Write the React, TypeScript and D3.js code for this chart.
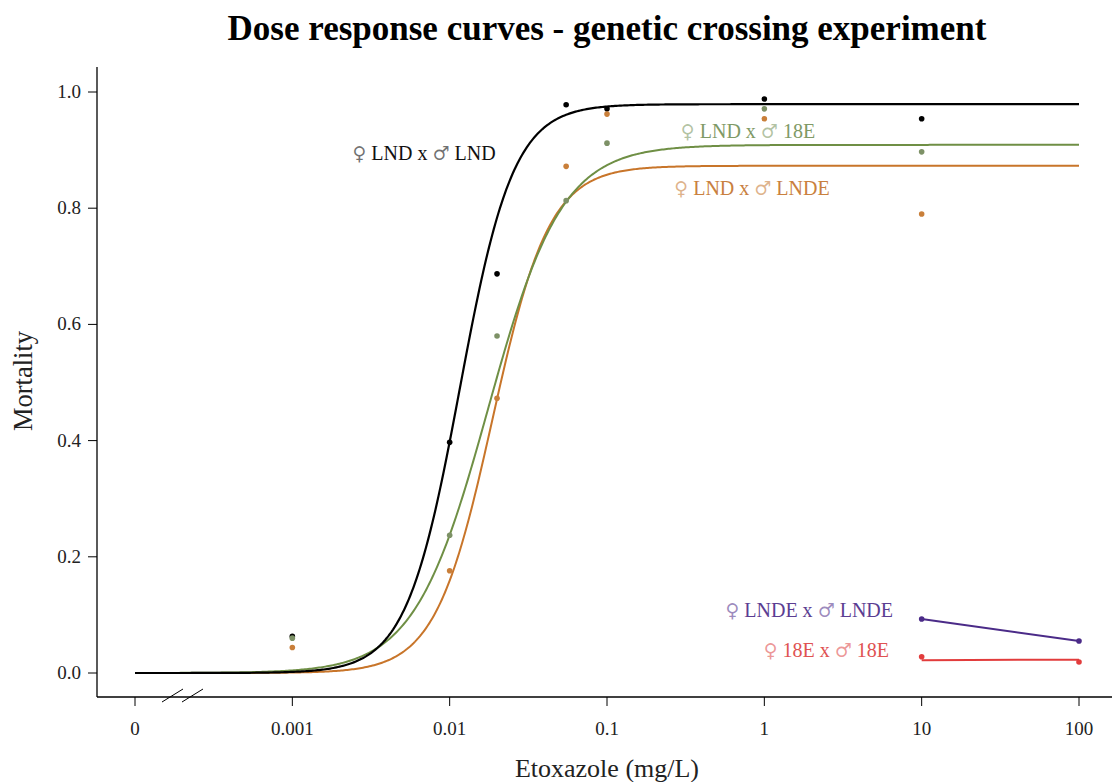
import React from "react";
import * as d3 from "d3";

// Observed mortality per cross at each etoxazole dose (mg/L)
const doses = [0.001, 0.01, 0.02, 0.055, 0.1, 1, 10];
const lndXlnd = [0.063, 0.397, 0.687, 0.978, 0.971, 0.988, 0.954];
const lndX18e = [0.06, 0.237, 0.58, 0.813, 0.912, 0.971, 0.897];
const lndXlnde = [0.044, 0.176, 0.473, 0.872, 0.962, 0.954, 0.79];

const highDoses = [10, 100];
const lndeXlnde = [0.093, 0.055];
const e18X18e = [0.028, 0.019];
// fitted responses at the two high doses
const lndeXlndeFit = [0.093, 0.055];
const e18X18eFit = [0.022, 0.023];

// Log-logistic fits: upper limit d, ED50 e, slope b
const fitUpper = [0.979, 0.909, 0.873];
const fitEd50 = [0.0116, 0.01754, 0.0187];
const fitSlope = [2.55, 1.85, 2.4];

const xTickValues = [0.0001, 0.001, 0.01, 0.1, 1, 10, 100];
const xTickLabels = ["0", "0.001", "0.01", "0.1", "1", "10", "100"];
const yTickValues = [0, 0.2, 0.4, 0.6, 0.8, 1.0];

const crossLabels = [
  "\u2640 LND x \u2642 LND",
  "\u2640 LND x \u2642 18E",
  "\u2640 LND x \u2642 LNDE",
  "\u2640 LNDE x \u2642 LNDE",
  "\u2640 18E x \u2642 18E",
];

const W = 1112;
const H = 782;
const FONT = "'Liberation Serif', 'Times New Roman', serif";
const SYMBOL_FONT = "'DejaVu Sans', 'DejaVu Serif'";

const COLORS = {
  lnd: "#000000",
  e18: "#6f8f45",
  e18pt: "#7d9166",
  e18txt: "#7f9a66",
  lnde: "#c8752a",
  lndept: "#c97f3a",
  lndetxt: "#c9803e",
  purple: "#4b2b88",
  purpletxt: "#5b3d92",
  red: "#e23c3c",
  redtxt: "#e05252",
};

// Render a cross label; the sex symbols are forced to text presentation
function CrossLabel(props: {
  text: string;
  x: number;
  y: number;
  anchor: string;
  fill: string;
}) {
  const parts = props.text.split(/([\u2640\u2642])/).filter((p) => p.length > 0);
  return (
    <text x={props.x} y={props.y} textAnchor={props.anchor} fontSize={20} fill={props.fill}>
      {parts.map((p, i) =>
        p === "\u2640" || p === "\u2642" ? (
          <tspan
            key={i}
            fontFamily={SYMBOL_FONT}
            fontSize={19}
            fontWeight={200}
            fillOpacity={0.6}
          >
            {p + "\uFE0E"}
          </tspan>
        ) : (
          <tspan key={i}>{p}</tspan>
        )
      )}
    </text>
  );
}

export default function App() {
  const x = d3.scaleLog().domain([0.0001, 100]).range([135, 1079]);
  const y = d3.scaleLinear().domain([0, 1]).range([673, 92]);

  const grid = d3.range(-4, 2.0001, 0.01).map((v) => Math.pow(10, v));
  const model = (i: number) => (dose: number) =>
    fitUpper[i] / (1 + Math.pow(dose / fitEd50[i], -fitSlope[i]));

  const curve = (i: number) =>
    d3
      .line<number>()
      .x((d) => x(d))
      .y((d) => y(model(i)(d)))(grid) || "";

  const seg = (vals: number[]) =>
    d3
      .line<number>()
      .x((_, k) => x(highDoses[k]))
      .y((d) => y(d))(vals) || "";

  const axisY = 697;
  const axisX = 97;

  const series = [
    { vals: lndXlnd, color: COLORS.lnd },
    { vals: lndX18e, color: COLORS.e18pt },
    { vals: lndXlnde, color: COLORS.lndept },
  ];

  return (
    <svg
      width={W}
      height={H}
      style={{ position: "absolute", left: 0, top: 0, background: "#fff" }}
      fontFamily={FONT}
    >
      <rect width={W} height={H} fill="#fff" />
      <text x={607} y={40} textAnchor="middle" fontSize={35} fontWeight="bold" fill="#000">
        Dose response curves - genetic crossing experiment
      </text>

      {/* axes */}
      <line x1={axisX} x2={axisX} y1={67} y2={axisY} stroke="#000" strokeWidth={1.3} />
      <line x1={axisX} x2={W} y1={axisY} y2={axisY} stroke="#000" strokeWidth={1.3} />
      {yTickValues.map((v) => (
        <g key={v}>
          <line x1={axisX - 9} x2={axisX} y1={y(v)} y2={y(v)} stroke="#000" strokeWidth={1} />
          <text x={81} y={y(v) + 6} textAnchor="end" fontSize={19} fill="#222">
            {v.toFixed(1)}
          </text>
        </g>
      ))}
      {xTickValues.map((v, i) => (
        <g key={v}>
          <line x1={x(v)} x2={x(v)} y1={axisY} y2={axisY + 9} stroke="#000" strokeWidth={1} />
          <text x={x(v)} y={735} textAnchor="middle" fontSize={19} fill="#222">
            {xTickLabels[i]}
          </text>
        </g>
      ))}
      {/* axis break */}
      <line x1={162} y1={702} x2={183} y2={689} stroke="#000" strokeWidth={1} />
      <line x1={182} y1={702} x2={203} y2={689} stroke="#000" strokeWidth={1} />

      <text x={607} y={777} textAnchor="middle" fontSize={26} fill="#222">
        Etoxazole (mg/L)
      </text>
      <text
        transform={`translate(32, 381) rotate(-90)`}
        textAnchor="middle"
        fontSize={26.5}
        fill="#222"
      >
        Mortality
      </text>

      {/* fitted curves */}
      <path d={curve(2)} fill="none" stroke={COLORS.lnde} strokeWidth={2} />
      <path d={curve(1)} fill="none" stroke={COLORS.e18} strokeWidth={2} />
      <path d={curve(0)} fill="none" stroke={COLORS.lnd} strokeWidth={2.2} />
      <path d={seg(lndeXlndeFit)} fill="none" stroke={COLORS.purple} strokeWidth={2} />
      <path d={seg(e18X18eFit)} fill="none" stroke={COLORS.red} strokeWidth={2} />

      {/* observed points */}
      {series.map((s, si) =>
        s.vals.map((v, k) => (
          <circle key={`${si}-${k}`} cx={x(doses[k])} cy={y(v)} r={2.8} fill={s.color} />
        ))
      )}
      {lndeXlnde.map((v, k) => (
        <circle key={`p${k}`} cx={x(highDoses[k])} cy={y(v)} r={2.8} fill={COLORS.purple} />
      ))}
      {e18X18e.map((v, k) => (
        <circle key={`r${k}`} cx={x(highDoses[k])} cy={y(v)} r={2.8} fill={COLORS.red} />
      ))}

      {/* cross labels */}
      <CrossLabel text={crossLabels[0]} x={424} y={160} anchor="middle" fill="#111" />
      <CrossLabel text={crossLabels[1]} x={748} y={138} anchor="middle" fill={COLORS.e18txt} />
      <CrossLabel text={crossLabels[2]} x={752} y={195} anchor="middle" fill={COLORS.lndetxt} />
      <CrossLabel text={crossLabels[3]} x={893} y={617} anchor="end" fill={COLORS.purpletxt} />
      <CrossLabel text={crossLabels[4]} x={889} y={657} anchor="end" fill={COLORS.redtxt} />
    </svg>
  );
}
